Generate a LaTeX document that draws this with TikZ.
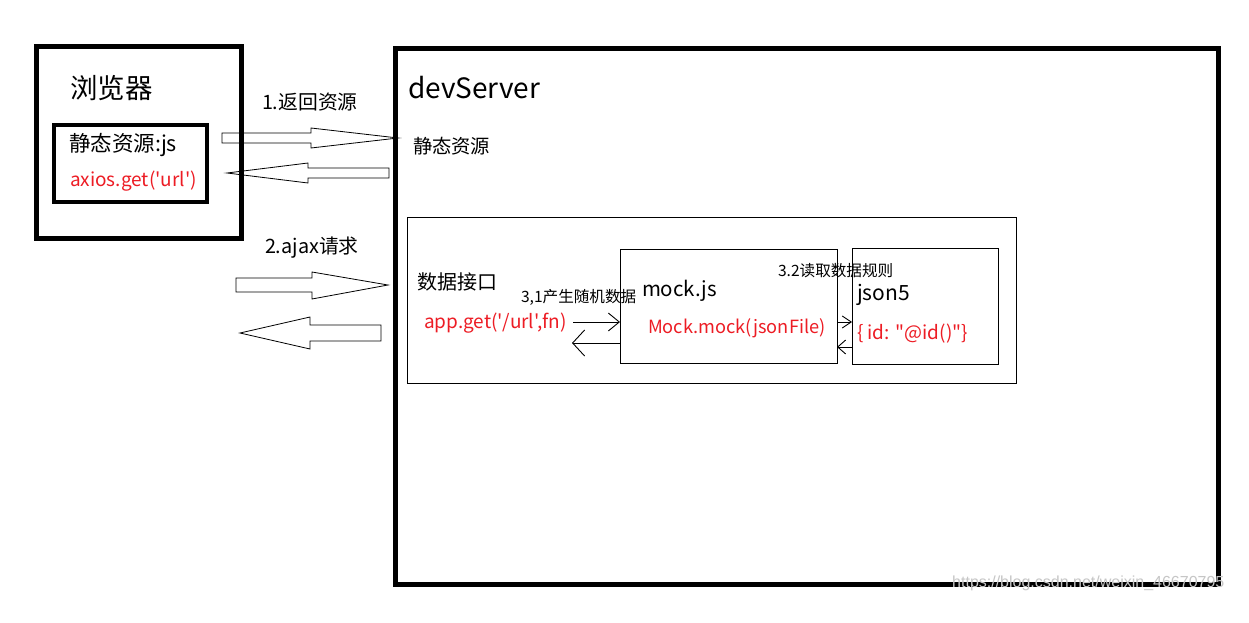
\documentclass[tikz,border=0pt]{standalone}
\usepackage{fontspec}
\setmainfont{Noto Sans CJK SC}[Ligatures=TeXOff]
\newfontfamily\wmfont{Liberation Sans}
\usetikzlibrary{arrows.meta}
\definecolor{txtred}{RGB}{237,28,36}
\newcommand{\fsz}[1]{\fontsize{#1}{#1}\selectfont}
\begin{document}
\begin{tikzpicture}[x=1pt,y=-1pt,
  thickbox/.style={draw, line width=5pt, inner sep=0pt, outer sep=0pt},
  innerbox/.style={draw, line width=4.5pt, inner sep=0pt, outer sep=0pt},
  thinbox/.style={draw, line width=1pt, inner sep=0pt, outer sep=0pt},
  lbl/.style={anchor=west, inner sep=0pt, outer sep=0pt},
  redlbl/.style={lbl, text=txtred},
  blockarrow/.style={draw, line width=0.8pt, line join=miter},
  barb/.style={line width=0.9pt}]
\useasboundingbox (0,0) rectangle (1249,623);
\fill[white] (0,0) rectangle (1249,623);

% boxes
\node[thickbox, minimum width=205pt, minimum height=191pt] (browser) at (138.5,142.5) {};
\node[innerbox, minimum width=153pt, minimum height=77pt] (static) at (130.5,163.5) {};
\node[thickbox, minimum width=823pt, minimum height=536pt] (dev) at (807,316.5) {};
\node[thinbox, minimum width=609pt, minimum height=166pt] (api) at (711.5,300) {};
\node[thinbox, minimum width=217pt, minimum height=114pt] (mock) at (728.5,306) {};
\node[thinbox, minimum width=146pt, minimum height=116pt] (json) at (925,306) {};

% labels
\node[lbl, font=\fsz{27.5}] (tbrowser) at (70,88) {浏览器};
\node[lbl, font=\fsz{21.5}] (tstatic) at (69,145) {静态资源:js};
\node[redlbl, font=\fsz{19}] (taxios) at (70,181) {axios.get('url')};
\node[lbl, font=\fsz{28}] (tdev) at (408,88) {devServer};
\node[lbl, font=\fsz{19.3}] (tdevstatic) at (413,146) {静态资源};
\node[lbl, font=\fsz{19.8}] (tstep1) at (262,102) {1.返回资源};
\node[lbl, font=\fsz{19.8}] (tstep2) at (265,248) {2.ajax请求};
\node[lbl, font=\fsz{20}] (tapi) at (417,282) {数据接口};
\node[lbl, font=\fsz{15.6}] (tstep31) at (521,297) {3,1产生随机数据};
\node[redlbl, font=\fsz{19}] (tapp) at (424,323) {app.get('/url',fn)};
\node[lbl, font=\fsz{20.5}] (tmock) at (642,291) {mock.js};
\node[redlbl, font=\fsz{18.2}] (tmockfn) at (648,328) {Mock.mock(jsonFile)};
\node[lbl, font=\fsz{15.6}] (tstep32) at (778,271) {3.2读取数据规则};
\node[lbl, font=\fsz{21}] (tjson) at (857,295) {json5};
\node[redlbl, font=\fsz{19}] (tid) at (857,334) {\{ id: "@id()"\}};

% block arrows between browser and devServer
\draw[blockarrow] (222,133) -- (311,133) -- (311,128) -- (398,138) -- (311,148) -- (311,143) -- (222,143) -- cycle;
\draw[blockarrow] (389,168) -- (308,168) -- (308,163) -- (227,173) -- (308,183) -- (308,178) -- (389,178) -- cycle;
\draw[blockarrow] (236,278) -- (312,278) -- (312,272) -- (388,285) -- (312,299) -- (312,292) -- (236,292) -- cycle;
\draw[blockarrow] (381,325) -- (310,325) -- (310,317) -- (240,333) -- (310,349) -- (310,341) -- (381,341) -- cycle;

% small arrows
\coordinate (a1) at (573,322);
\coordinate (a2) at (572,343);
\draw[barb, -{Straight Barb[length=11pt,width=18pt]}] (a1) -- (mock.west |- a1);
\draw[barb, -{Straight Barb[length=12pt,width=26pt]}] (mock.west |- a2) -- (a2);
\coordinate (b1) at (0,322);
\coordinate (b2) at (0,347);
\draw[barb, -{Straight Barb[length=9pt,width=12pt]}] (mock.east |- b1) -- (json.west |- b1);
\draw[barb, -{Straight Barb[length=8pt,width=14pt]}] (json.west |- b2) -- (mock.east |- b2);

% watermark
\node[anchor=west, inner sep=0pt, text=gray!45, font=\wmfont\fsz{16}] (wm) at (952,583) {https://blog.csdn.net/weixin\_46670795};
\end{tikzpicture}
\end{document}
